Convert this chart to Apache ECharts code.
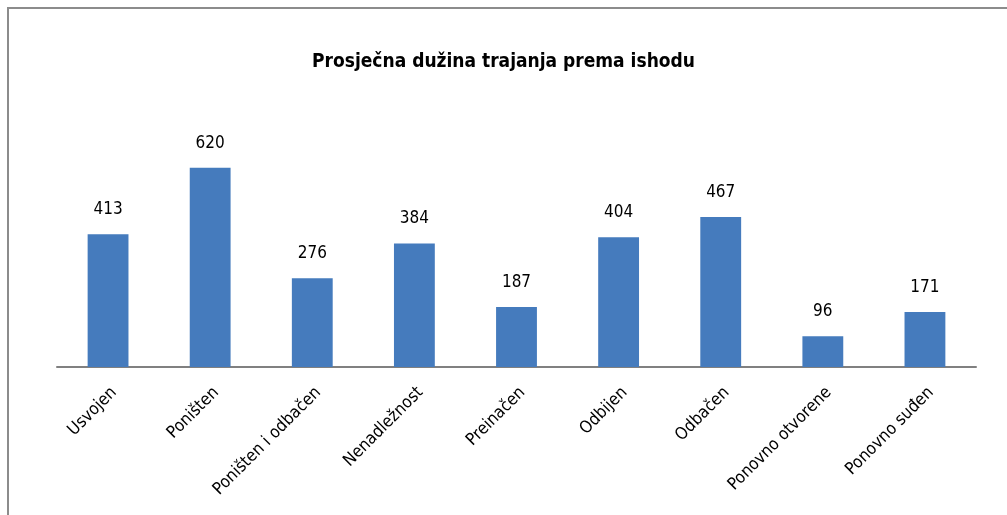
<!DOCTYPE html>
<html>
<head>
<meta charset="utf-8">
<script src="https://cdn.jsdelivr.net/npm/echarts@6/dist/echarts.min.js"></script>
<style>
  html, body { margin: 0; padding: 0; background: #fff; }
  #chart { width: 1007px; height: 515px; }
</style>
</head>
<body>
<div id="chart"></div>
<script>
const categories = ['Usvojen', 'Poništen', 'Poništen i odbačen', 'Nenadležnost', 'Preinačen', 'Odbijen', 'Odbačen', 'Ponovno otvorene', 'Ponovno suđen'];
const values = [413, 620, 276, 384, 187, 404, 467, 96, 171];

const font = '"DejaVu Sans Condensed", "DejaVu Sans", sans-serif';

const chart = echarts.init(document.getElementById('chart'));

const option = {
  animation: false,
  title: {
    text: 'Prosječna dužina trajanja prema ishodu',
    left: 'center',
    top: 48,
    textStyle: { fontFamily: font, fontSize: 19, fontWeight: 'bold', color: '#000' }
  },
  graphic: [
    {
      type: 'polyline',
      shape: { points: [[8, 530], [8, 8], [1020, 8]] },
      style: { stroke: '#8c8c8c', lineWidth: 2, fill: null }
    }
  ],
  grid: { left: 57, right: 31, top: 142, bottom: 148 },
  xAxis: {
    type: 'category',
    data: categories,
    axisLine: { lineStyle: { color: '#808080', width: 2 } },
    axisTick: { show: false },
    axisLabel: {
      rotate: 45,
      margin: 17,
      interval: 0,
      verticalAlign: 'top',
      fontFamily: font,
      fontSize: 17,
      color: '#000'
    }
  },
  yAxis: {
    type: 'value',
    min: 0,
    max: 700,
    show: false,
    splitLine: { show: false }
  },
  series: [
    {
      type: 'bar',
      data: values,
      barWidth: '40%',
      itemStyle: { color: '#457bbd' },
      label: {
        show: true,
        position: 'top',
        distance: 16,
        fontFamily: font,
        fontSize: 17,
        color: '#000'
      }
    }
  ]
};

chart.setOption(option);
</script>
</body>
</html>
